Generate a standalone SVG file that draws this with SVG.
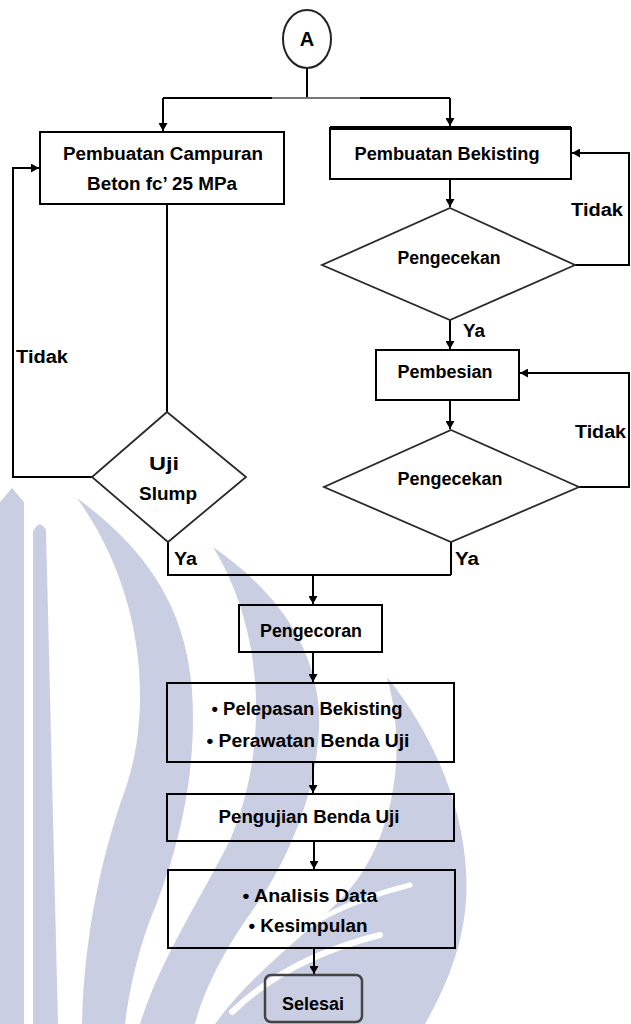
<svg xmlns="http://www.w3.org/2000/svg" width="631" height="1024" viewBox="0 0 631 1024">
<defs>
<style>
.wm{fill:#cacee3;stroke:none}
.ws{fill:none;stroke:#ffffff;stroke-linecap:round}
.box{fill:none;stroke:#000;stroke-width:2}
.dia{fill:none;stroke:#2a2a2a;stroke-width:1.8}
.con{fill:none;stroke:#000;stroke-width:2}
.t{font-family:"Liberation Sans",Arial,sans-serif;font-weight:bold;font-size:18px;fill:#000}
.c{text-anchor:middle}
</style>
<marker id="ar" markerUnits="userSpaceOnUse" markerWidth="9" markerHeight="9" refX="8" refY="4.5" orient="auto">
<path d="M0,0 L8,4.5 L0,9 Z" fill="#000"/>
</marker>
</defs>
<rect width="631" height="1024" fill="#fff"/>
<g id="watermark">
<path class="wm" d="M0 1024 V502 L12 488 L24 502 V1024 Z"/>
<path class="wm" d="M33 1024 V532 Q39 518 46 530 L58 1024 Z"/>
<path class="wm" d="M77 498 C140 545 185 600 192 690 C198 780 175 860 150 920 C135 960 128 1000 125 1024 L82 1024 C84 940 100 860 125 790 C150 720 150 600 77 498 Z"/>
<path class="wm" d="M213 547 C275 590 310 640 318 700 C325 760 300 840 260 900 C230 940 205 985 195 1024 L140 1024 C160 960 200 900 230 840 C265 760 270 640 213 547 Z"/>
<path class="wm" d="M387 677 C430 730 462 800 466 870 C470 930 450 980 425 1024 L215 1024 C250 975 300 940 340 900 C390 850 410 760 387 677 Z"/>
<path class="ws" stroke-width="6" d="M232 1012 C270 975 320 950 380 935"/>
<path class="ws" stroke-width="5" d="M262 960 C300 925 350 900 410 885"/>
</g>
<g id="connectors">
<path class="con" d="M307 68 V98"/>
<path class="con" d="M163 98 H450"/>
<path d="M272 98 H360" stroke="#777" stroke-width="2"/>
<path class="con" d="M163 98 V131" marker-end="url(#ar)"/>
<path class="con" d="M450 98 V126" marker-end="url(#ar)"/>
<path class="con" d="M450 179 V207" marker-end="url(#ar)"/>
<path class="con" d="M575 265 H629 V153 H572" marker-end="url(#ar)"/>
<path class="con" d="M450 320 V349" marker-end="url(#ar)"/>
<path class="con" d="M450 400 V429" marker-end="url(#ar)"/>
<path class="con" d="M579 487 H629 V373 H520" marker-end="url(#ar)"/>
<path class="con" d="M451 542 V575"/>
<path class="con" d="M167 204 V412"/>
<path class="con" d="M92 477 H13 V168 H39" marker-end="url(#ar)"/>
<path class="con" d="M168 542 V575 H451"/>
<path class="con" d="M313 575 V604" marker-end="url(#ar)"/>
<path class="con" d="M313 652 V682" marker-end="url(#ar)"/>
<path class="con" d="M313 762 V793" marker-end="url(#ar)"/>
<path class="con" d="M314 841 V869" marker-end="url(#ar)"/>
<path class="con" d="M314 948 V974" marker-end="url(#ar)"/>
<text class="t" x="571" y="216" textLength="52" lengthAdjust="spacingAndGlyphs">Tidak</text>
<text class="t" x="463" y="337" textLength="22" lengthAdjust="spacingAndGlyphs">Ya</text>
<text class="t" x="575" y="438" textLength="51" lengthAdjust="spacingAndGlyphs">Tidak</text>
<text class="t" x="16" y="363" textLength="52" lengthAdjust="spacingAndGlyphs">Tidak</text>
<text class="t" x="174" y="565" textLength="23" lengthAdjust="spacingAndGlyphs">Ya</text>
<text class="t" x="455" y="565" textLength="24" lengthAdjust="spacingAndGlyphs">Ya</text>
</g>
<g id="start">
<ellipse cx="307" cy="39" rx="24" ry="29" fill="none" stroke="#222" stroke-width="2"/>
<text class="t c" x="307" y="46" style="font-size:20px">A</text>
</g>
<g id="campuran">
<rect class="box" x="40" y="132" width="244" height="72"/>
<text class="t c" x="163" y="160" textLength="200" lengthAdjust="spacingAndGlyphs">Pembuatan Campuran</text>
<text class="t c" x="162" y="190" textLength="150" lengthAdjust="spacingAndGlyphs">Beton fc’ 25 MPa</text>
</g>
<g id="bekisting">
<rect class="box" x="330" y="128" width="241" height="51"/>
<line x1="330" y1="128" x2="571" y2="128" stroke="#000" stroke-width="4"/>
<text class="t c" x="447" y="160" textLength="185" lengthAdjust="spacingAndGlyphs">Pembuatan Bekisting</text>
</g>
<g id="cek1">
<polygon class="dia" points="450,208 575,265 450,320 322,265"/>
<text class="t c" x="449" y="264" textLength="103" lengthAdjust="spacingAndGlyphs">Pengecekan</text>
</g>
<g id="pembesian">
<rect class="box" x="376" y="350" width="143" height="50"/>
<text class="t c" x="445" y="378" textLength="95" lengthAdjust="spacingAndGlyphs">Pembesian</text>
</g>
<g id="cek2">
<polygon class="dia" points="451,430 579,487 451,542 324,487"/>
<text class="t c" x="450" y="485" textLength="105" lengthAdjust="spacingAndGlyphs">Pengecekan</text>
</g>
<g id="slump">
<polygon class="dia" points="167,412 246,477 168,542 92,477"/>
<text class="t c" x="164" y="470" textLength="30" lengthAdjust="spacingAndGlyphs">Uji</text>
<text class="t c" x="168" y="500" textLength="58" lengthAdjust="spacingAndGlyphs">Slump</text>
</g>
<g id="pengecoran">
<rect class="box" x="239" y="605" width="143" height="47"/>
<text class="t c" x="311" y="637" textLength="102" lengthAdjust="spacingAndGlyphs">Pengecoran</text>
</g>
<g id="pelepasan">
<rect class="box" x="167" y="683" width="287" height="79"/>
<text class="t c" x="307" y="715" textLength="191" lengthAdjust="spacingAndGlyphs">• Pelepasan Bekisting</text>
<text class="t c" x="308" y="747" textLength="203" lengthAdjust="spacingAndGlyphs">• Perawatan Benda Uji</text>
</g>
<g id="pengujian">
<rect class="box" x="167" y="794" width="287" height="47"/>
<text class="t c" x="309" y="823" textLength="181" lengthAdjust="spacingAndGlyphs">Pengujian Benda Uji</text>
</g>
<g id="analisis">
<rect class="box" x="168" y="870" width="287" height="78"/>
<text class="t c" x="310" y="902" textLength="135" lengthAdjust="spacingAndGlyphs">• Analisis Data</text>
<text class="t c" x="308" y="932" textLength="119" lengthAdjust="spacingAndGlyphs">• Kesimpulan</text>
</g>
<g id="selesai">
<rect x="265" y="975" width="97" height="47" rx="6" fill="none" stroke="#444" stroke-width="2.5"/>
<text class="t c" x="313" y="1010" textLength="62" lengthAdjust="spacingAndGlyphs">Selesai</text>
</g>
</svg>
